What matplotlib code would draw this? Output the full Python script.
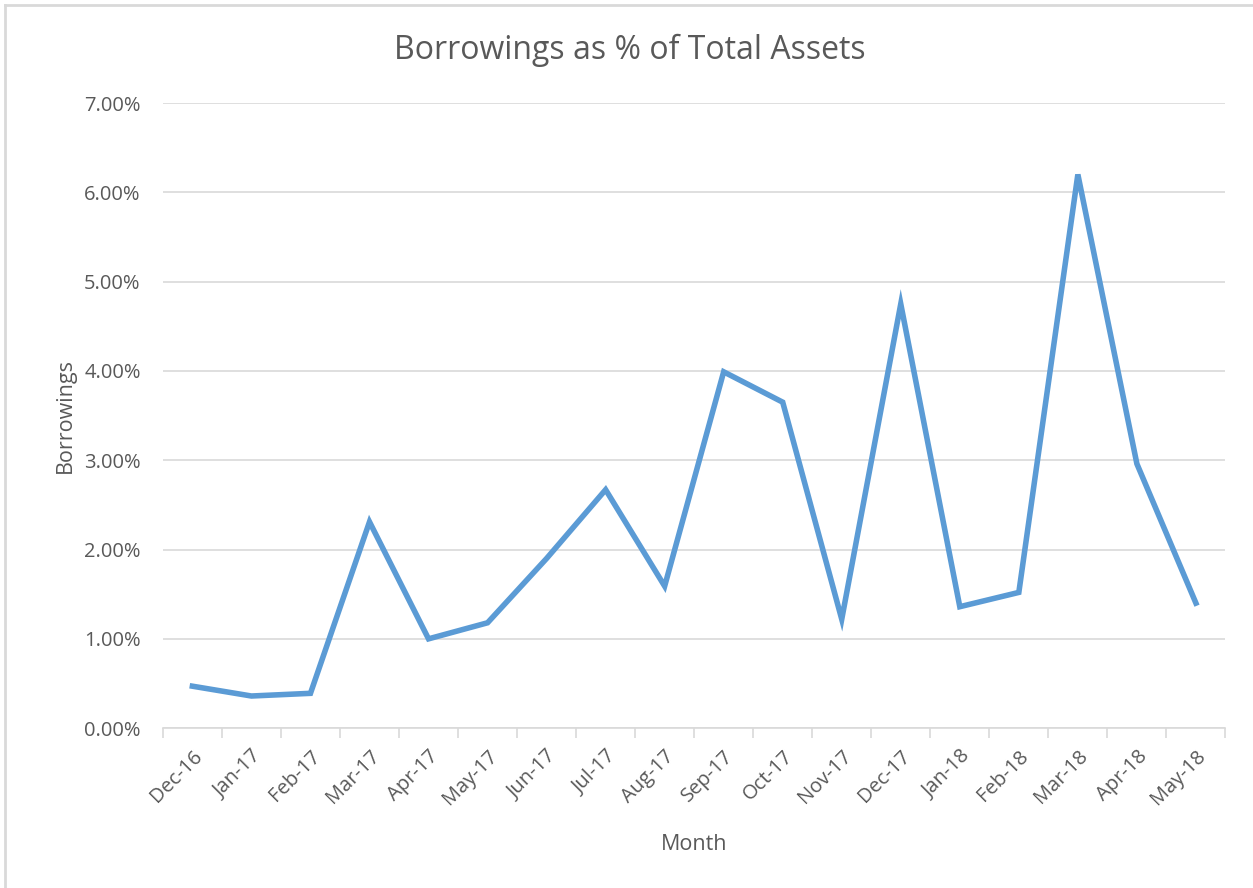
import matplotlib.pyplot as plt
from matplotlib.ticker import FixedLocator, PercentFormatter
from matplotlib.lines import Line2D

months = ["Dec-16", "Jan-17", "Feb-17", "Mar-17", "Apr-17", "May-17", "Jun-17",
          "Jul-17", "Aug-17", "Sep-17", "Oct-17", "Nov-17", "Dec-17", "Jan-18",
          "Feb-18", "Mar-18", "Apr-18", "May-18"]
borrowings = [0.47, 0.36, 0.39, 2.31, 1.00, 1.18, 1.90, 2.67, 1.59, 3.99,
              3.65, 1.22, 4.75, 1.36, 1.52, 6.20, 2.96, 1.40]

plt.rcParams['font.family'] = ['Open Sans', 'DejaVu Sans']
txt = '#595959'
grid = '#D9D9D9'

fig = plt.figure(figsize=(12.53, 8.88), dpi=100)
ax = fig.add_axes([0.130, 0.180, 0.848, 0.704])

x = range(len(months))
ax.plot(x, borrowings, color='#5B9BD5', linewidth=4, solid_joinstyle='miter')

ax.set_xlim(-0.5, len(months) - 0.5)
ax.set_ylim(0, 7)
ax.set_yticks([0, 1, 2, 3, 4, 5, 6, 7])
ax.yaxis.set_major_formatter(PercentFormatter(decimals=2))
ax.yaxis.grid(True, color=grid, linewidth=1.2)
ax.set_axisbelow(True)

ax.set_xticks(list(x))
ax.set_xticklabels(months, rotation=45, ha='right', rotation_mode='anchor')
ax.xaxis.set_minor_locator(FixedLocator([i - 0.5 for i in range(len(months) + 1)]))
ax.tick_params(axis='x', which='major', length=0, pad=13, labelsize=14.5, colors=txt)
ax.tick_params(axis='x', which='minor', length=7, width=1.2, color=grid)
ax.tick_params(axis='y', length=0, pad=16, labelsize=14.5, colors=txt)

for s in ['top', 'right', 'left']:
    ax.spines[s].set_visible(False)
ax.spines['bottom'].set_color(grid)
ax.spines['bottom'].set_linewidth(1.2)

fig.text(0.503, 0.943, "Borrowings as % of Total Assets", fontsize=23, color=txt,
         ha='center', va='center')
ax.set_xlabel("Month", fontsize=15.5, color=txt, labelpad=18)
ax.set_ylabel("Borrowings", fontsize=15.5, color=txt, labelpad=6)

# chart frame (only top and left edges visible in the original)
fig.add_artist(Line2D([0.004, 1.0], [0.994, 0.994], transform=fig.transFigure,
                      color=grid, linewidth=2))
fig.add_artist(Line2D([0.004, 0.004], [0.0, 0.994], transform=fig.transFigure,
                      color=grid, linewidth=2))

fig.savefig('out.png', dpi=100)
